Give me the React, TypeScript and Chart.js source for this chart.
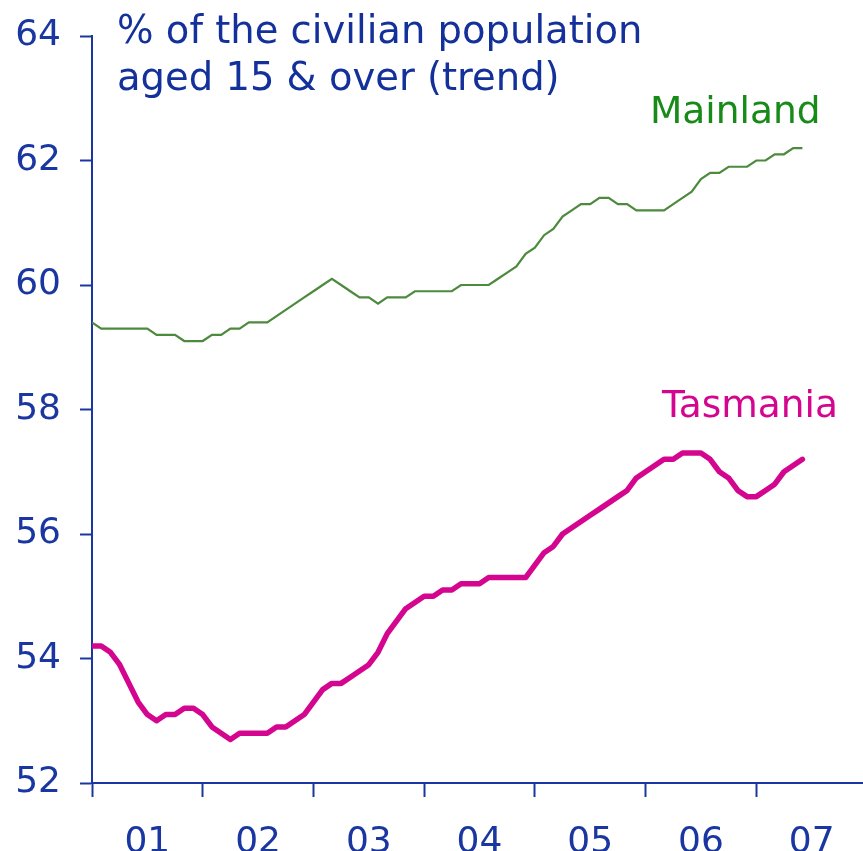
import React, { useEffect, useRef } from "react";
import { Chart, registerables } from "chart.js";

Chart.register(...registerables);

// Monthly trend, Jan 2001 .. Jun 2007
const mainland: number[] = [
  59.4, 59.3, 59.3, 59.3, 59.3, 59.3, 59.3, 59.2, 59.2, 59.2, 59.1, 59.1,
  59.1, 59.2, 59.2, 59.3, 59.3, 59.4, 59.4, 59.4, 59.5, 59.6, 59.7, 59.8,
  59.9, 60.0, 60.1, 60.0, 59.9, 59.8, 59.8, 59.7, 59.8, 59.8, 59.8, 59.9,
  59.9, 59.9, 59.9, 59.9, 60.0, 60.0, 60.0, 60.0, 60.1, 60.2, 60.3, 60.5,
  60.6, 60.8, 60.9, 61.1, 61.2, 61.3, 61.3, 61.4, 61.4, 61.3, 61.3, 61.2,
  61.2, 61.2, 61.2, 61.3, 61.4, 61.5, 61.7, 61.8, 61.8, 61.9, 61.9, 61.9,
  62.0, 62.0, 62.1, 62.1, 62.2, 62.2,
];

const tasmania: number[] = [
  54.2, 54.2, 54.1, 53.9, 53.6, 53.3, 53.1, 53.0, 53.1, 53.1, 53.2, 53.2,
  53.1, 52.9, 52.8, 52.7, 52.8, 52.8, 52.8, 52.8, 52.9, 52.9, 53.0, 53.1,
  53.3, 53.5, 53.6, 53.6, 53.7, 53.8, 53.9, 54.1, 54.4, 54.6, 54.8, 54.9,
  55.0, 55.0, 55.1, 55.1, 55.2, 55.2, 55.2, 55.3, 55.3, 55.3, 55.3, 55.3,
  55.5, 55.7, 55.8, 56.0, 56.1, 56.2, 56.3, 56.4, 56.5, 56.6, 56.7, 56.9,
  57.0, 57.1, 57.2, 57.2, 57.3, 57.3, 57.3, 57.2, 57.0, 56.9, 56.7, 56.6,
  56.6, 56.7, 56.8, 57.0, 57.1, 57.2,
];

const yearLabels: string[] = ["01", "02", "03", "04", "05", "06", "07"];
const yTicks: number[] = [52, 54, 56, 58, 60, 62, 64];
const titleLines: string[] = ["% of the civilian population", "aged 15 & over (trend)"];
const seriesNames: string[] = ["Mainland", "Tasmania"];

const BLUE = "#1a36a0";
const TITLE_BLUE = "#14309a";
const GREEN_LINE = "#4c8a3e";
const GREEN_TEXT = "#178a17";
const MAGENTA = "#d4068f";
const FONT = '"DejaVu Sans", Verdana, sans-serif';

export default function App() {
  const ref = useRef<HTMLCanvasElement | null>(null);

  useEffect(() => {
    if (!ref.current) return;
    const toPts = (arr: number[]) => arr.map((v, i) => ({ x: i, y: v }));

    const textPlugin = {
      id: "texts",
      afterDraw(chart: any) {
        const { ctx, chartArea } = chart;
        ctx.save();
        ctx.textBaseline = "alphabetic";
        ctx.textAlign = "left";
        ctx.font = `38.5px ${FONT}`;
        ctx.fillStyle = TITLE_BLUE;
        ctx.fillText(titleLines[0], chartArea.left + 25, 43);
        ctx.fillText(titleLines[1], chartArea.left + 25, 90);
        ctx.font = `37.5px ${FONT}`;
        ctx.fillStyle = GREEN_TEXT;
        ctx.fillText(seriesNames[0], 650, 123);
        ctx.fillStyle = MAGENTA;
        ctx.fillText(seriesNames[1], 662, 417);
        ctx.restore();
      },
    };

    const chart = new Chart(ref.current, {
      type: "line",
      data: {
        datasets: [
          {
            label: seriesNames[0],
            data: toPts(mainland),
            borderColor: GREEN_LINE,
            borderWidth: 2.2,
            pointRadius: 0,
            tension: 0,
            fill: false,
          },
          {
            label: seriesNames[1],
            data: toPts(tasmania),
            borderColor: MAGENTA,
            borderWidth: 5.5,
            pointRadius: 0,
            tension: 0,
            fill: false,
            borderJoinStyle: "round",
            borderCapStyle: "round",
          },
        ],
      },
      options: {
        responsive: false,
        animation: false,
        layout: { padding: { top: 36, right: 0, left: 0, bottom: 0 } },
        plugins: {
          legend: { display: false },
          tooltip: { enabled: false },
          title: { display: false },
        },
        scales: {
          x: {
            type: "linear",
            min: 0,
            max: yearLabels.length * 12,
            afterBuildTicks: (axis: any) => {
              const t = [];
              for (let v = 0; v <= yearLabels.length * 12; v += 6) t.push({ value: v });
              axis.ticks = t;
            },
            afterFit: (axis: any) => {
              axis.height = 68;
              axis.paddingLeft = 0;
              axis.paddingRight = 0;
            },
            ticks: {
              autoSkip: false,
              maxRotation: 0,
              minRotation: 0,
              padding: 24,
              color: BLUE,
              font: { family: FONT, size: 36 },
              callback: (v: any) => {
                const n = Number(v);
                if (n % 12 === 6) return yearLabels[(n - 6) / 12];
                return "";
              },
            },
            grid: {
              drawOnChartArea: false,
              drawTicks: true,
              tickLength: 14,
              tickWidth: 2,
              tickColor: (ctx: any) =>
                ctx.tick && ctx.tick.value % 12 === 0 ? BLUE : "rgba(0,0,0,0)",
            },
            border: { display: true, color: BLUE, width: 2 },
          },
          y: {
            min: yTicks[0],
            max: yTicks[yTicks.length - 1],
            afterBuildTicks: (axis: any) => {
              axis.ticks = yTicks.map((v) => ({ value: v }));
            },
            afterFit: (axis: any) => {
              axis.width = 92;
              axis.paddingTop = 0;
              axis.paddingBottom = 0;
            },
            ticks: {
              padding: 19,
              color: BLUE,
              font: { family: FONT, size: 36 },
            },
            grid: {
              drawOnChartArea: false,
              drawTicks: true,
              tickLength: 12,
              tickWidth: 2,
              tickColor: BLUE,
            },
            border: { display: true, color: BLUE, width: 2 },
          },
        },
      },
      plugins: [textPlugin],
    } as any);

    return () => chart.destroy();
  }, []);

  return (
    <div
      style={{
        position: "absolute",
        left: 0,
        top: 0,
        width: 863,
        height: 851,
        overflow: "hidden",
        background: "#ffffff",
      }}
    >
      <canvas ref={ref} width={867} height={851} style={{ display: "block" }} />
    </div>
  );
}
